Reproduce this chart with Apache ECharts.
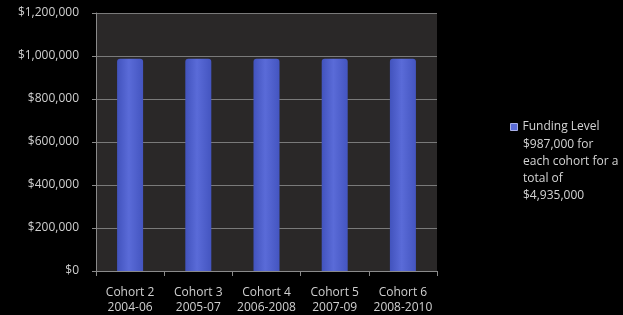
<!DOCTYPE html>
<html><head><meta charset="utf-8">
<script src="https://cdn.jsdelivr.net/npm/echarts@6/dist/echarts.min.js"></script>
<style>html,body{margin:0;padding:0;background:#000;}#c{width:623px;height:315px;}</style>
</head><body><div id="c"></div>
<script>
var cohorts = ['Cohort 2', 'Cohort 3', 'Cohort 4', 'Cohort 5', 'Cohort 6'];
var years = ['2004-06', '2005-07', '2006-2008', '2007-09', '2008-2010'];
var funding = [987000, 987000, 987000, 987000, 987000];
var seriesName = 'Funding Level';
var legendRest = ['$987,000 for', 'each cohort for a', 'total of', '$4,935,000'];
var yTicks = { min: 0, max: 1200000, interval: 200000 };

var font = 'Open Sans';
var labels = cohorts.map(function (c, i) { return c + '\n' + years[i]; });
var chart = echarts.init(document.getElementById('c'));
chart.setOption({
  backgroundColor: '#000',
  animation: false,
  textStyle: { fontFamily: font },
  grid: { left: 96, right: 186, top: 13, bottom: 44, show: true, backgroundColor: '#2a2828', borderWidth: 0 },
  legend: {
    show: true, left: 505, top: 116, itemWidth: 7, itemHeight: 7, icon: 'rect',
    textStyle: { color: '#d4d4d4', fontSize: 12, fontFamily: font },
    itemGap: 5,
    data: [{ name: seriesName, itemStyle: { color: '#5a6bd6', borderColor: '#a8b0e8', borderWidth: 1 } }]
  },
  graphic: [{
    type: 'text', left: 523, top: 136,
    style: { text: legendRest.join('\n'), fill: '#d4d4d4', font: '12px "' + font + '"', lineHeight: 17 }
  }],
  xAxis: {
    type: 'category', data: labels,
    axisLine: { lineStyle: { color: '#8a8a8a' } },
    axisTick: { show: true, length: 5, lineStyle: { color: '#8a8a8a' } },
    axisLabel: { interval: 0, color: '#d0d0d0', fontSize: 12, lineHeight: 15, margin: 14, fontFamily: font }
  },
  yAxis: {
    type: 'value', min: yTicks.min, max: yTicks.max, interval: yTicks.interval,
    axisLine: { show: true, lineStyle: { color: '#8a8a8a' } },
    axisTick: { show: true, length: 4, lineStyle: { color: '#8a8a8a' } },
    splitLine: { lineStyle: { color: '#7a7a7a' } },
    axisLabel: { color: '#d0d0d0', fontSize: 12, margin: 17, fontFamily: font,
      formatter: function (v) { return '$' + v.toLocaleString('en-US'); } }
  },
  series: [{
    name: seriesName, type: 'bar', data: funding, barWidth: 26,
    itemStyle: {
      borderRadius: [3, 3, 0, 0],
      color: new echarts.graphic.LinearGradient(0, 0, 1, 0, [
        { offset: 0, color: '#4253bd' },
        { offset: 0.45, color: '#5a6bd8' },
        { offset: 1, color: '#4455c0' }
      ])
    }
  }]
});
</script></body></html>
